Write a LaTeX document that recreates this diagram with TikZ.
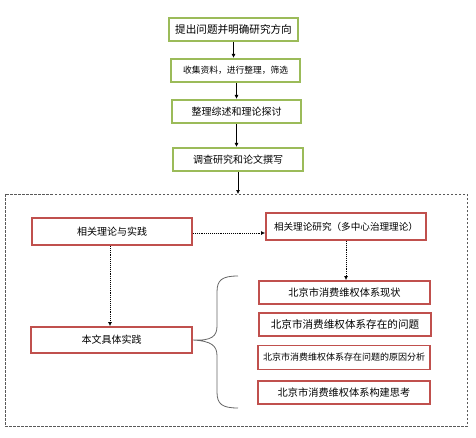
\documentclass[tikz,border=0pt]{standalone}
\usepackage{fontspec}
\setmainfont{Noto Sans CJK SC}
\usetikzlibrary{arrows.meta}
\definecolor{gbox}{HTML}{9BBB59}
\definecolor{rbox}{HTML}{C0504D}
\newcommand{\fsz}[1]{\fontsize{#1}{#1}\selectfont}
\tikzset{
  gnode/.style={draw=gbox,line width=2.2pt,fill=white,inner sep=0pt,font=\fsz{10}},
  rnode/.style={draw=rbox,line width=1.8pt,fill=white,inner sep=0pt,font=\fsz{10}},
  solidarr/.style={-{Latex[length=4pt,width=4pt]},line width=0.6pt},
  dotarr/.style={-{Latex[length=4pt,width=4pt]},line width=0.9pt,densely dotted},
}
\begin{document}
\begin{tikzpicture}[x=1pt,y=-1pt]
\useasboundingbox (0,0) rectangle (476,437);
% dashed frame
\draw[dash pattern=on 2.5pt off 1.5pt,line width=0.6pt,gray!70!black] (5,194) rectangle (467,426);
% green boxes
\node[gnode,minimum width=129pt,minimum height=23pt,font=\fsz{10.6}] (g1) at (233.5,29.5) {提出问题并明确研究方向};
\node[gnode,minimum width=129pt,minimum height=23pt,font=\fsz{8.75}] (g2) at (235.5,70.5) {收集资料，进行整理，筛选};
\node[gnode,minimum width=129pt,minimum height=23pt] (g3) at (236.5,111.5) {整理综述和理论探讨};
\node[gnode,minimum width=130pt,minimum height=23pt] (g4) at (238,159.5) {调查研究和论文撰写};
\coordinate (frametop) at (238,194);
\draw[solidarr] (g1.south) -- (g1.south |- g2.north);
\draw[solidarr] (g2.south -| g3.north) -- (g3.north);
\draw[solidarr] (g3.south) -- (g3.south |- g4.north);
\draw[solidarr] (g4.south) -- (frametop);
% red boxes
\node[rnode,minimum width=160pt,minimum height=27pt] (a) at (112,231.5) {相关理论与实践};
\node[rnode,minimum width=160pt,minimum height=27pt,font=\fsz{9.6}] (b) at (346,226.5) {相关理论研究（多中心治理理论）};
\node[rnode,minimum width=171pt,minimum height=23pt,font=\fsz{10.2}] (c1) at (344.5,292.5) {北京市消费维权体系现状};
\node[rnode,minimum width=172pt,minimum height=23pt,font=\fsz{10.6}] (c2) at (345,324.5) {北京市消费维权体系存在的问题};
\node[rnode,minimum width=172pt,minimum height=24pt,font=\fsz{9}] (c3) at (344,357.5) {北京市消费维权体系存在问题的原因分析};
\node[rnode,minimum width=172pt,minimum height=23pt,font=\fsz{10.2}] (c4) at (344,392.5) {北京市消费维权体系构建思考};
\node[rnode,minimum width=161pt,minimum height=26pt] (d) at (111.5,340) {本文具体实践};
% dotted arrows
\draw[dotarr] (a.east |- 0,233) -- (b.west |- 0,233);
\draw[dotarr] (b.south) -- (b.south |- c1.north);
\draw[dotarr] (a.south -| 110,0) -- (d.north -| 110,0);
% brace
\coordinate (bt) at (238,276);
\coordinate (bb) at (238,408);
\draw[gray!80!black,line width=0.8pt] (bt) .. controls (222,276) and (217,280) .. (217,292)
  -- (217,326) .. controls (217,336) and (212,341) .. (d.east)
  .. controls (212,341) and (217,346) .. (217,356)
  -- (217,392) .. controls (217,404) and (222,408) .. (bb);
\end{tikzpicture}
\end{document}
